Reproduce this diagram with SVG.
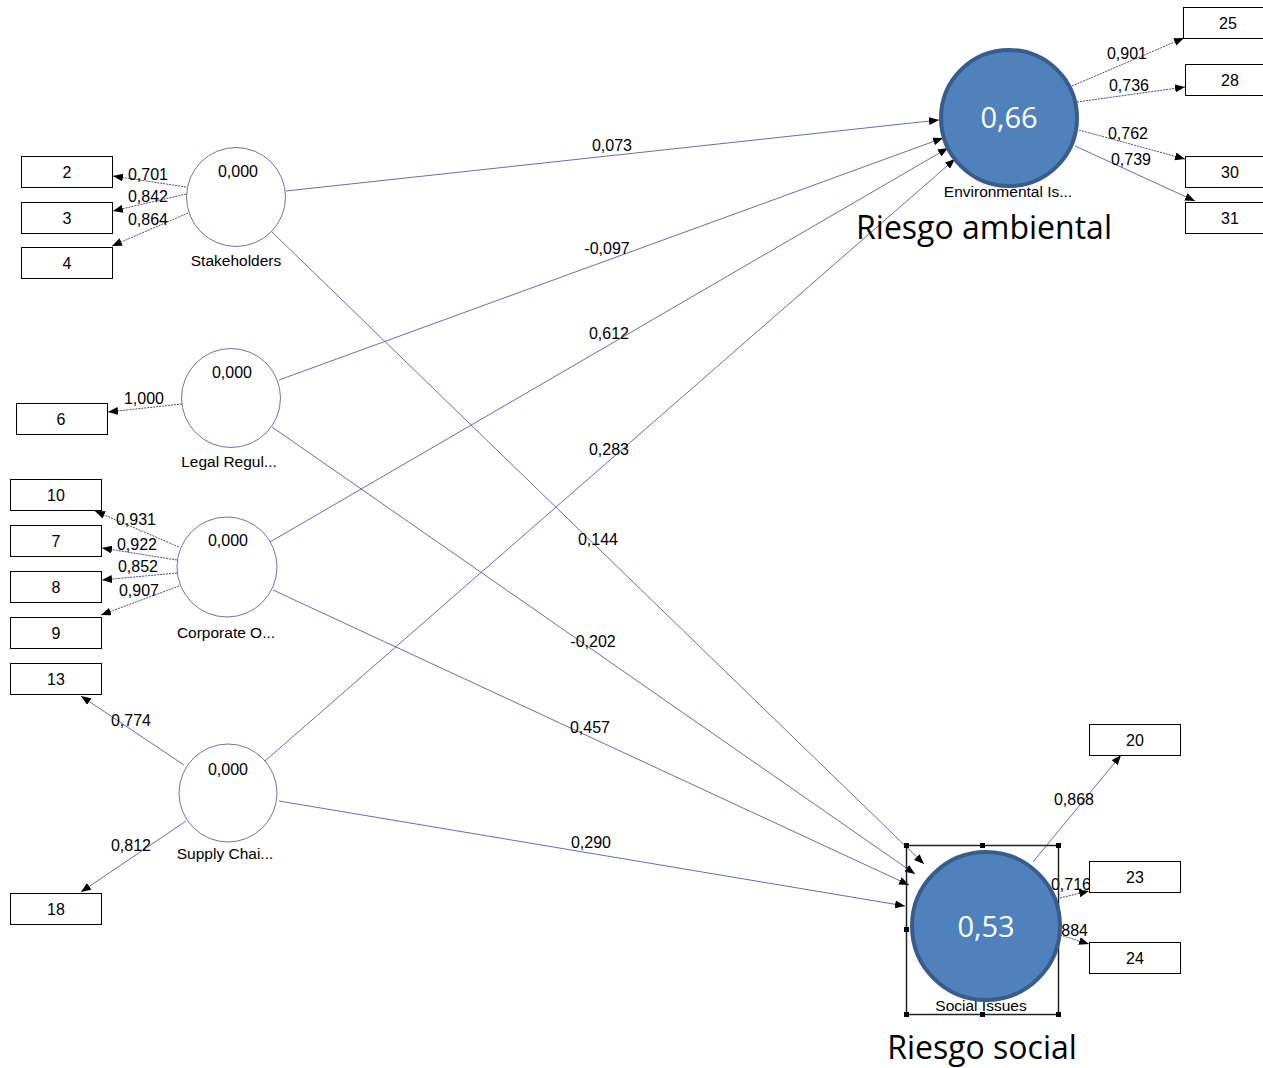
<svg xmlns="http://www.w3.org/2000/svg" width="1263" height="1068" viewBox="0 0 1263 1068">
<defs>
<marker id="ah" markerUnits="userSpaceOnUse" markerWidth="10" markerHeight="8" refX="10" refY="4" orient="auto">
<path d="M0,0 L10,4 L0,8 z" fill="#000"/>
</marker>
<style>
.bg{fill:#fff}
.box{fill:#fff;stroke:#000;stroke-width:1}
.bt{font-family:"Liberation Sans",Arial,sans-serif;font-size:16px;text-anchor:middle;fill:#000}
.lv{fill:#fff;stroke:#7070b8;stroke-width:1}
.num{font-family:"Liberation Sans",Arial,sans-serif;font-size:16px;text-anchor:middle;fill:#000}
.lab{font-family:"Liberation Sans",Arial,sans-serif;font-size:15.5px;text-anchor:middle;fill:#000}
.ld{stroke:#4a4a8a;stroke-width:1;fill:none;stroke-dasharray:2 1;marker-end:url(#ah)}
.st{stroke:#6a6ab8;stroke-width:1;fill:none;marker-end:url(#ah)}
.big{fill:#4f81bd;stroke:#385d8a;stroke-width:4}
.bigt{font-family:"Open Sans","Noto Sans",sans-serif;font-size:29px;text-anchor:middle;fill:#fff}
.title{font-family:"Open Sans","Noto Sans",sans-serif;font-size:32px;text-anchor:middle;fill:#000}
.h{fill:#000}
</style>
</defs>
<rect class="bg" x="0" y="0" width="1263" height="1068"/>

<g id="connectors">
<!-- structural paths to Environmental -->
<line class="st" x1="286" y1="191" x2="939" y2="120"/>
<line class="st" x1="279" y1="380" x2="943" y2="138"/>
<line class="st" x1="270" y1="542" x2="948" y2="148"/>
<line class="st" x1="265" y1="761" x2="955" y2="159"/>
<!-- structural paths to Social -->
<line class="st" x1="272" y1="232" x2="924" y2="864"/>
<line class="st" x1="272" y1="427" x2="915" y2="874"/>
<line class="st" x1="273" y1="590" x2="909" y2="885"/>
<line class="st" x1="279" y1="801" x2="905" y2="906"/>
<!-- loadings Stakeholders -->
<line class="ld" x1="186" y1="187" x2="113" y2="176"/>
<line class="ld" x1="186" y1="194" x2="113" y2="211"/>
<line class="ld" x1="188" y1="213" x2="112" y2="246"/>
<!-- Legal -->
<line class="ld" x1="182" y1="404" x2="108" y2="412"/>
<!-- Corporate -->
<line class="ld" x1="179" y1="547" x2="95" y2="511"/>
<line class="ld" x1="177" y1="560" x2="102" y2="548"/>
<line class="ld" x1="177" y1="573" x2="102" y2="580"/>
<line class="ld" x1="179" y1="586" x2="101" y2="615"/>
<!-- Supply -->
<line class="st" x1="184" y1="765" x2="81" y2="696"/>
<line class="st" x1="186" y1="821" x2="81" y2="892"/>
<!-- Environmental indicators -->
<line class="ld" x1="1072" y1="86" x2="1184" y2="38"/>
<line class="ld" x1="1077" y1="102" x2="1185" y2="87"/>
<line class="ld" x1="1079" y1="130" x2="1185" y2="159"/>
<line class="st" x1="1075" y1="146" x2="1195" y2="201"/>
<!-- Social indicators -->
<line class="st" x1="1033" y1="862" x2="1121" y2="755"/>
<line class="ld" x1="1060" y1="898" x2="1089" y2="891"/>
<line class="ld" x1="1060" y1="935" x2="1089" y2="944"/>
</g>

<g id="path-labels">
<text class="num" x="612" y="151">0,073</text>
<text class="num" x="607" y="254">-0,097</text>
<text class="num" x="609" y="339">0,612</text>
<text class="num" x="609" y="455">0,283</text>
<text class="num" x="598" y="545">0,144</text>
<text class="num" x="593" y="647">-0,202</text>
<text class="num" x="590" y="733">0,457</text>
<text class="num" x="591" y="848">0,290</text>
<text class="num" x="148" y="180">0,701</text>
<text class="num" x="148" y="202">0,842</text>
<text class="num" x="148" y="225">0,864</text>
<text class="num" x="144" y="404">1,000</text>
<text class="num" x="136" y="525">0,931</text>
<text class="num" x="137" y="550">0,922</text>
<text class="num" x="138" y="572">0,852</text>
<text class="num" x="139" y="596">0,907</text>
<text class="num" x="131" y="726">0,774</text>
<text class="num" x="131" y="851">0,812</text>
<text class="num" x="1127" y="59">0,901</text>
<text class="num" x="1129" y="91">0,736</text>
<text class="num" x="1128" y="139">0,762</text>
<text class="num" x="1131" y="165">0,739</text>
<text class="num" x="1074" y="805">0,868</text>
<text class="num" x="1071" y="890">0,716</text>
<text class="num" x="1068" y="936">0,884</text>
</g>

<g id="ind-2"><rect class="box" x="21.5" y="156.5" width="91" height="31"/><text class="bt" x="67" y="178">2</text></g>
<g id="ind-3"><rect class="box" x="21.5" y="202.5" width="91" height="31"/><text class="bt" x="67" y="224">3</text></g>
<g id="ind-4"><rect class="box" x="21.5" y="247.5" width="91" height="31"/><text class="bt" x="67" y="269">4</text></g>
<g id="ind-6"><rect class="box" x="16.5" y="403.5" width="91" height="31"/><text class="bt" x="61" y="425">6</text></g>
<g id="ind-10"><rect class="box" x="10.5" y="479.5" width="91" height="31"/><text class="bt" x="56" y="501">10</text></g>
<g id="ind-7"><rect class="box" x="10.5" y="525.5" width="91" height="31"/><text class="bt" x="56" y="547">7</text></g>
<g id="ind-8"><rect class="box" x="10.5" y="571.5" width="91" height="31"/><text class="bt" x="56" y="593">8</text></g>
<g id="ind-9"><rect class="box" x="10.5" y="617.5" width="91" height="31"/><text class="bt" x="56" y="639">9</text></g>
<g id="ind-13"><rect class="box" x="10.5" y="663.5" width="91" height="31"/><text class="bt" x="56" y="685">13</text></g>
<g id="ind-18"><rect class="box" x="10.5" y="893.5" width="91" height="31"/><text class="bt" x="56" y="915">18</text></g>
<g id="ind-25"><rect class="box" x="1183.5" y="7.5" width="91" height="31"/><text class="bt" x="1228" y="29">25</text></g>
<g id="ind-28"><rect class="box" x="1185.5" y="64.5" width="91" height="31"/><text class="bt" x="1230" y="86">28</text></g>
<g id="ind-30"><rect class="box" x="1185.5" y="156.5" width="91" height="31"/><text class="bt" x="1230" y="178">30</text></g>
<g id="ind-31"><rect class="box" x="1185.5" y="202.5" width="91" height="31"/><text class="bt" x="1230" y="224">31</text></g>
<g id="ind-20"><rect class="box" x="1089.5" y="724.5" width="91" height="31"/><text class="bt" x="1135" y="746">20</text></g>
<g id="ind-23"><rect class="box" x="1089.5" y="861.5" width="91" height="31"/><text class="bt" x="1135" y="883">23</text></g>
<g id="ind-24"><rect class="box" x="1089.5" y="942.5" width="91" height="31"/><text class="bt" x="1135" y="964">24</text></g>

<g id="stakeholders"><circle class="lv" cx="236" cy="197" r="49.5"/><text class="num" x="238" y="177">0,000</text><text class="lab" x="236" y="266">Stakeholders</text></g>
<g id="legal"><circle class="lv" cx="231" cy="398" r="49.5"/><text class="num" x="232" y="378">0,000</text><text class="lab" x="229" y="467">Legal Regul...</text></g>
<g id="corporate"><circle class="lv" cx="227" cy="567" r="50"/><text class="num" x="228" y="546">0,000</text><text class="lab" x="226" y="638">Corporate O...</text></g>
<g id="supply"><circle class="lv" cx="228" cy="793" r="49"/><text class="num" x="228" y="775">0,000</text><text class="lab" x="225" y="859">Supply Chai...</text></g>

<g id="environmental">
<circle class="big" cx="1009" cy="118" r="68"/>
<text class="bigt" x="1009" y="128">0,66</text>
<text class="lab" x="1008" y="197">Environmental Is...</text>
<text class="title" x="984" y="239">Riesgo ambiental</text>
</g>

<g id="social">
<text class="lab" x="981" y="1011">Social Issues</text>
<rect x="906.5" y="845.5" width="152" height="169" fill="none" stroke="#222" stroke-width="1.5"/>
<circle class="big" cx="986" cy="926" r="74"/>
<text class="bigt" x="986" y="937">0,53</text>
<rect class="h" x="904" y="843" width="5" height="5"/>
<rect class="h" x="980" y="843" width="5" height="5"/>
<rect class="h" x="1056" y="843" width="5" height="5"/>
<rect class="h" x="904" y="927" width="5" height="5"/>
<rect class="h" x="904" y="1012" width="5" height="5"/>
<rect class="h" x="980" y="1012" width="5" height="5"/>
<rect class="h" x="1056" y="1012" width="5" height="5"/>
<text class="title" x="982" y="1059">Riesgo social</text>
</g>
</svg>
